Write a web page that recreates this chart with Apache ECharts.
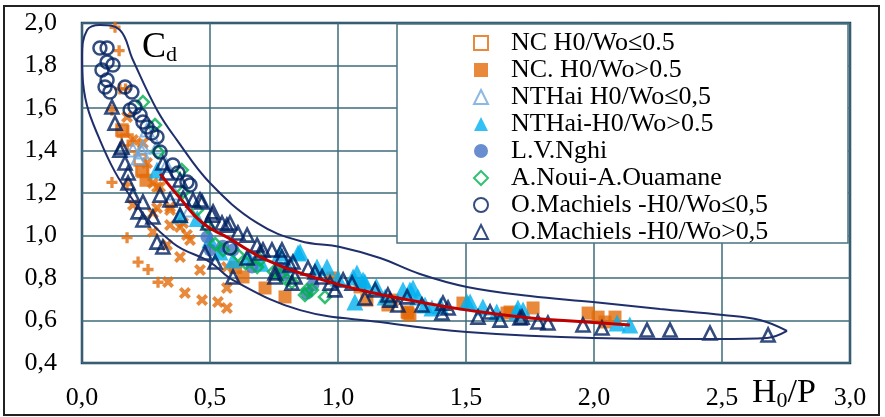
<!DOCTYPE html>
<html>
<head>
<meta charset="utf-8">
<script src="https://cdn.jsdelivr.net/npm/echarts@6/dist/echarts.min.js"></script>
<style>
  html, body { margin: 0; padding: 0; background: #fff; }
  #main { width: 885px; height: 417px; }
</style>
</head>
<body>
<div id="main"></div>
<script>
// series values, [H0/P, Cd]
let ncLow = [[0.156, 1.496], [0.176, 1.449], [0.227, 1.355], [0.234, 1.308], [0.2, 1.42]];
let ncHigh = [[0.16, 1.49], [0.238, 1.3], [0.25, 1.26], [0.629, 0.805], [0.715, 0.753], [0.793, 0.711],
  [1.086, 0.758], [1.113, 0.696], [1.195, 0.673], [1.211, 0.696], [1.27, 0.64], [1.281, 0.626],
  [1.273, 0.635], [1.488, 0.682], [1.66, 0.635], [1.672, 0.64], [1.762, 0.659], [1.977, 0.635],
  [2.016, 0.616], [2.043, 0.593], [2.082, 0.616], [0.6, 0.85], [0.98, 0.8]];
let nthaiLow = [[0.199, 1.402], [0.219, 1.365], [0.238, 1.416], [0.254, 1.496], [0.293, 1.416],
  [0.234, 1.393], [0.33, 1.33], [0.36, 1.2], [0.42, 1.12]];
let nthaiHigh = [[0.293, 1.308], [0.383, 1.096], [0.539, 0.922], [0.59, 0.885], [0.773, 0.918],
  [0.844, 0.918], [0.852, 0.922], [0.918, 0.852], [0.957, 0.852], [1.059, 0.805], [1.066, 0.687],
  [1.074, 0.824], [1.098, 0.791], [1.105, 0.781], [1.184, 0.711], [1.254, 0.744], [1.281, 0.744],
  [1.293, 0.753], [1.312, 0.711], [1.34, 0.673], [1.367, 0.659], [1.504, 0.687], [1.516, 0.687],
  [1.566, 0.664], [1.699, 0.64], [1.703, 0.659], [1.723, 0.649], [2.09, 0.588], [2.14, 0.579],
  [0.45, 1.08], [0.5, 0.98], [0.65, 0.9], [0.7, 0.87], [0.8, 0.86], [1.0, 0.8], [1.15, 0.76],
  [1.4, 0.67], [1.62, 0.64]];
let nghi = [[0.488, 0.993], [0.5, 0.932], [0.59, 0.932], [0.664, 0.852], [0.773, 0.847],
  [0.785, 0.814], [0.879, 0.729], [0.902, 0.767], [0.55, 0.95]];
let noui = [[0.238, 1.628], [0.285, 1.52], [0.297, 1.393], [0.39, 1.308], [0.395, 1.205],
  [0.449, 1.12], [0.492, 1.04], [0.551, 0.932], [0.609, 0.908], [0.684, 0.852], [0.695, 0.885],
  [0.773, 0.814], [0.801, 0.791], [0.82, 0.781], [0.871, 0.72], [0.879, 0.744], [0.898, 0.744],
  [0.949, 0.711], [0.52, 0.96], [0.64, 0.87], [0.75, 0.83]];
let machLow = [[0.07, 1.882], [0.098, 1.882], [0.098, 1.816], [0.121, 1.802], [0.078, 1.779],
  [0.098, 1.732], [0.09, 1.699], [0.109, 1.675], [0.168, 1.699], [0.195, 1.675], [0.207, 1.605],
  [0.188, 1.591], [0.227, 1.567], [0.238, 1.534], [0.254, 1.511], [0.273, 1.482], [0.293, 1.464],
  [0.305, 1.393], [0.355, 1.332], [0.375, 1.294], [0.41, 1.252], [0.422, 1.238], [0.578, 0.941]];
let machHigh = [[0.117, 1.605], [0.129, 1.529], [0.148, 1.402], [0.156, 1.416], [0.168, 1.341],
  [0.18, 1.294], [0.18, 1.247], [0.199, 1.19], [0.219, 1.111], [0.238, 1.073], [0.238, 1.158],
  [0.277, 1.087], [0.293, 0.969], [0.316, 0.946], [0.316, 1.341], [0.332, 1.294], [0.305, 1.19],
  [0.344, 1.167], [0.383, 1.261], [0.383, 1.096], [0.395, 1.176], [0.434, 1.167], [0.461, 1.167],
  [0.469, 1.158], [0.48, 0.918], [0.492, 1.059], [0.508, 1.096], [0.512, 1.111], [0.52, 0.875],
  [0.547, 1.059], [0.566, 1.049], [0.578, 1.059], [0.59, 0.805], [0.609, 1.012], [0.645, 1.002],
  [0.645, 0.894], [0.684, 0.955], [0.695, 0.918], [0.707, 0.932], [0.742, 0.932], [0.754, 0.824],
  [0.754, 0.805], [0.781, 0.899], [0.781, 0.932], [0.813, 0.861], [0.82, 0.776], [0.824, 0.875],
  [0.832, 0.805], [0.883, 0.847], [0.91, 0.828], [0.938, 0.805], [0.969, 0.776], [0.988, 0.744],
  [1.02, 0.791], [1.055, 0.776], [1.105, 0.706], [1.145, 0.744], [1.195, 0.72], [1.203, 0.696],
  [1.234, 0.673], [1.27, 0.711], [1.328, 0.673], [1.406, 0.635], [1.41, 0.682], [1.43, 0.659],
  [1.547, 0.616], [1.594, 0.64], [1.633, 0.602], [1.711, 0.612], [1.719, 0.616], [1.781, 0.593],
  [1.82, 0.588], [1.957, 0.579], [2.031, 0.565], [2.207, 0.555], [2.297, 0.555], [2.453, 0.541],
  [2.68, 0.532]];
let plusPts = [[0.129, 1.98], [0.145, 1.87], [0.148, 1.69], [0.17, 1.69], [0.117, 1.59],
  [0.117, 1.25], [0.176, 1.24], [0.176, 0.99], [0.219, 0.875], [0.258, 0.84], [0.297, 0.78]];
let crossPts = [[0.176, 1.558], [0.199, 1.449], [0.238, 1.435], [0.254, 1.341], [0.277, 1.247],
  [0.305, 1.228], [0.293, 1.228], [0.199, 1.144], [0.293, 1.129], [0.344, 1.134], [0.277, 1.106],
  [0.344, 1.12], [0.277, 1.017], [0.344, 1.049], [0.383, 1.04], [0.395, 1.059], [0.332, 0.955],
  [0.41, 1.002], [0.422, 0.979], [0.383, 0.899], [0.461, 0.838], [0.336, 0.781], [0.402, 0.729],
  [0.469, 0.696], [0.531, 0.687], [0.566, 0.659], [0.566, 0.753], [0.566, 0.852]];
let fitCurve = [[0.305, 1.29], [0.38, 1.18], [0.47, 1.06], [0.57, 0.99], [0.72, 0.885], [0.9, 0.805],
  [1.1, 0.74], [1.32, 0.687], [1.5, 0.65], [1.75, 0.612], [1.97, 0.593], [2.14, 0.579]];
let envelope = [[2.754, 0.551], [2.648, 0.602], [2.504, 0.626], [2.258, 0.654], [1.996, 0.687],
  [1.75, 0.715], [1.504, 0.758], [1.32, 0.819], [1.164, 0.894], [1.008, 0.946], [0.852, 0.974],
  [0.684, 1.059], [0.5, 1.247], [0.371, 1.449], [0.293, 1.591], [0.199, 1.826], [0.148, 1.967],
  [0.07, 1.991], [0.02, 1.967], [0.0, 1.84], [0.004, 1.718], [0.07, 1.449], [0.199, 1.167],
  [0.355, 0.965], [0.5, 0.875], [0.59, 0.79], [0.852, 0.649], [1.164, 0.593], [1.504, 0.546],
  [1.996, 0.518], [2.492, 0.513], [2.676, 0.518], [2.754, 0.551]];

let names = ["NC H0/Wo≤0.5", "NC. H0/Wo>0.5", "NTHai H0/Wo≤0,5", "NTHai-H0/Wo>0.5",
  "L.V.Nghi", "A.Noui-A.Ouamane", "O.Machiels -H0/Wo≤0,5", "O.Machiels -H0/Wo>0,5"];

const serif = "'Liberation Serif', 'DejaVu Serif', serif";
const plusPath = "path://M3.5,0h3v3.5h3.5v3h-3.5v3.5h-3v-3.5h-3.5v-3h3.5z";

function hollow(color, width) {
  return { color: "rgba(255,255,255,0)", borderColor: color, borderWidth: width };
}

let myChart = echarts.init(document.getElementById("main"));

let options = {
  backgroundColor: "#fff",
  animation: false,
  grid: { left: 82, top: 23, right: 35, bottom: 54, show: true, borderColor: "#1F3A5F", borderWidth: 2.5 },
  xAxis: {
    type: "value", min: 0, max: 3, interval: 0.5,
    axisLine: { show: false }, axisTick: { show: false },
    splitLine: { lineStyle: { color: "#3E6B78", width: 1.5 } },
    axisLabel: {
      margin: 22, color: "#000", fontFamily: serif, fontSize: 26,
      formatter: (v) => v.toFixed(1).replace(".", ","),
    },
  },
  yAxis: {
    type: "value", min: 0.4, max: 2.0, interval: 0.2,
    axisLine: { show: false }, axisTick: { show: false },
    splitLine: { lineStyle: { color: "#3E6B78", width: 1.5 } },
    axisLabel: {
      margin: 25, color: "#000", fontFamily: serif, fontSize: 26,
      formatter: (v) => v.toFixed(1).replace(".", ","),
    },
  },
  legend: {
    data: names, orient: "vertical", left: 468, top: 25,
    itemWidth: 14, itemHeight: 14, itemGap: 1,
    textStyle: { fontFamily: serif, fontSize: 26, lineHeight: 26, color: "#000", padding: [0, 0, 0, 18] },
    z: 10,
  },
  graphic: [
    { type: "rect", shape: { x: 4, y: 6, width: 875, height: 409 }, style: { fill: "none", stroke: "#222", lineWidth: 2 }, z: 0 },
    { type: "rect", shape: { x: 397, y: 24, width: 451, height: 219 }, style: { fill: "#fff", stroke: "#4A7480", lineWidth: 1.5 }, z: 8 },
    {
      type: "text", left: 142, top: 30, z: 9,
      style: {
        text: "{c|C}{d|d}", fill: "#000",
        rich: { c: { fontFamily: serif, fontSize: 36 }, d: { fontFamily: serif, fontSize: 22, padding: [14, 0, 0, 0] } },
      },
    },
    {
      type: "text", left: 752, top: 376, z: 9,
      style: {
        text: "{h|H}{s|0}{h|/P}", fill: "#000",
        rich: { h: { fontFamily: serif, fontSize: 34 }, s: { fontFamily: serif, fontSize: 22, padding: [16, 0, 0, 0] } },
      },
    },
  ],
  series: [
    { name: "plus", type: "scatter", data: plusPts, symbol: plusPath, symbolSize: 11, itemStyle: { color: "#E36C0A" } },
    { name: "cross", type: "scatter", data: crossPts, symbol: plusPath, symbolRotate: 45, symbolSize: 13, itemStyle: { color: "#E36C0A" } },
    { name: names[0], type: "scatter", data: ncLow, symbol: "rect", symbolSize: 11, itemStyle: hollow("#E36C0A", 2.5) },
    { name: names[1], type: "scatter", data: ncHigh, symbol: "rect", symbolSize: 13, itemStyle: { color: "#E36C0A" } },
    { name: names[2], type: "scatter", data: nthaiLow, symbol: "triangle", symbolSize: 13, itemStyle: hollow("#6FA8DC", 2) },
    { name: names[3], type: "scatter", data: nthaiHigh, symbol: "triangle", symbolSize: 17, itemStyle: { color: "#00B0F0" } },
    { name: names[4], type: "scatter", data: nghi, symbol: "circle", symbolSize: 13, itemStyle: { color: "#4472C4" } },
    { name: names[5], type: "scatter", data: noui, symbol: "diamond", symbolSize: 12, itemStyle: hollow("#00B050", 2.5) },
    { name: names[6], type: "scatter", data: machLow, symbol: "circle", symbolSize: 13, itemStyle: hollow("#002060", 2.5) },
    { name: names[7], type: "scatter", data: machHigh, symbol: "triangle", symbolSize: 13, itemStyle: hollow("#002060", 2.6) },
    { name: "fit", type: "line", data: fitCurve, smooth: true, symbol: "none", lineStyle: { color: "#C00000", width: 3 }, z: 4 },
    { name: "envelope", type: "line", data: envelope, smooth: 0.4, symbol: "none", lineStyle: { color: "#1F2F6B", width: 2 }, z: 4 },
  ],
};
myChart.setOption(options);
</script>
</body>
</html>
